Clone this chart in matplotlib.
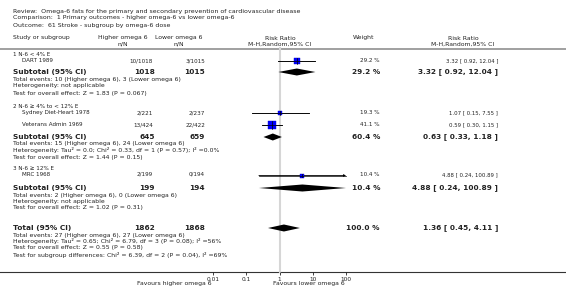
import matplotlib
matplotlib.use("Agg")
import matplotlib.pyplot as plt
import numpy as np

# ---------------- data ----------------
title_lines = [
    "Review:  Omega-6 fats for the primary and secondary prevention of cardiovascular disease",
    "Comparison:  1 Primary outcomes - higher omega-6 vs lower omega-6",
    "Outcome:  61 Stroke - subgroup by omega-6 dose",
]
subgroup_names = ["1 N-6 < 4% E", "2 N-6 \u2265 4% to < 12% E", "3 N-6 \u2265 12% E"]
study_names = ["DART 1989", "Sydney Diet-Heart 1978", "Veterans Admin 1969", "MRC 1968"]
study_group = [0, 1, 1, 2]
study_high = ["10/1018", "2/221", "13/424", "2/199"]
study_low = ["3/1015", "2/237", "22/422", "0/194"]
study_rr = [3.32, 1.07, 0.59, 4.88]
study_lo = [0.92, 0.15, 0.30, 0.24]
study_hi = [12.04, 7.55, 1.15, 100.89]
study_w = [29.2, 19.3, 41.1, 10.4]

sub_high_n = ["1018", "645", "199"]
sub_low_n = ["1015", "659", "194"]
sub_rr = [3.32, 0.63, 4.88]
sub_lo = [0.92, 0.33, 0.24]
sub_hi = [12.04, 1.18, 100.89]
sub_w = [29.2, 60.4, 10.4]
sub_info = [
    ["Total events: 10 (Higher omega 6), 3 (Lower omega 6)",
     "Heterogeneity: not applicable",
     "Test for overall effect: Z = 1.83 (P = 0.067)"],
    ["Total events: 15 (Higher omega 6), 24 (Lower omega 6)",
     "Heterogeneity: Tau\u00b2 = 0.0; Chi\u00b2 = 0.33, df = 1 (P = 0.57); I\u00b2 =0.0%",
     "Test for overall effect: Z = 1.44 (P = 0.15)"],
    ["Total events: 2 (Higher omega 6), 0 (Lower omega 6)",
     "Heterogeneity: not applicable",
     "Test for overall effect: Z = 1.02 (P = 0.31)"],
]
total_high_n = "1862"
total_low_n = "1868"
total_rr, total_lo, total_hi, total_w = 1.36, 0.45, 4.11, 100.0
total_info = [
    "Total events: 27 (Higher omega 6), 27 (Lower omega 6)",
    "Heterogeneity: Tau\u00b2 = 0.65; Chi\u00b2 = 6.79, df = 3 (P = 0.08); I\u00b2 =56%",
    "Test for overall effect: Z = 0.55 (P = 0.58)",
    "Test for subgroup differences: Chi\u00b2 = 6.39, df = 2 (P = 0.04), I\u00b2 =69%",
]
tick_vals = [0.01, 0.1, 1, 10, 100]
tick_labels = ["0.01", "0.1", "1", "10", "100"]
favours_left = "Favours higher omega 6"
favours_right = "Favours lower omega 6"

# ---------------- layout (pixels) ----------------
W, H = 566, 288
plt.rcParams["font.family"] = ["DejaVu Sans"]
fig = plt.figure(figsize=(W / 100, H / 100), dpi=100)
bg = fig.add_axes([0, 0, 1, 1])
bg.set_xlim(0, W)
bg.set_ylim(H, 0)
bg.axis("off")

FS = 4.4
FSS = 4.1
FSB = 5.3
col = "#222222"

def t(x, y, s, ha="left", size=FS, bold=False):
    bg.text(x, y, s, ha=ha, va="center", fontsize=size,
            fontweight="bold" if bold else "normal", color=col)

# titles
for i, s in enumerate(title_lines):
    t(13, 11 + i * 7, s, size=4.5)

# headers
t(13, 38, "Study or subgroup")
t(123, 38, "Higher omega 6", ha="center")
t(123, 44, "n/N", ha="center")
t(179, 38, "Lower omega 6", ha="center")
t(179, 44, "n/N", ha="center")
t(280, 38, "Risk Ratio", ha="center")
t(280, 44, "M-H,Random,95% CI", ha="center")
t(364, 38, "Weight", ha="center")
t(463, 38, "Risk Ratio", ha="center")
t(463, 44, "M-H,Random,95% CI", ha="center")
bg.plot([0, W], [48.5, 48.5], color="#a0a0a0", lw=1.4, solid_capstyle="butt")

# row positions
group_head_y = [55, 106.5, 168.5]
study_y = [60.8, 112.8, 124.8, 174.5]
sub_y = [72, 137, 188]
sub_info_y = [[79, 86, 93], [143, 150, 157], [195, 202, 208]]
total_y = 228
total_info_y = [235, 241, 248, 255]
axis_y = 272

X_HIGH, X_LOW, X_W, X_CI = 153, 205, 379, 498

for g, name in enumerate(subgroup_names):
    t(13, group_head_y[g], name, size=FSS)
for i in range(len(study_names)):
    y = study_y[i]
    t(22, y, study_names[i], size=FSS)
    t(X_HIGH, y, study_high[i], ha="right", size=FSS)
    t(X_LOW, y, study_low[i], ha="right", size=FSS)
    t(X_W, y, f"{study_w[i]:.1f} %", ha="right", size=FSS)
    t(X_CI, y, f"{study_rr[i]:.2f} [ {study_lo[i]:.2f}, {study_hi[i]:.2f} ]", ha="right", size=3.9)
for g in range(3):
    y = sub_y[g]
    t(13, y, "Subtotal (95% CI)", size=FSB, bold=True)
    t(X_HIGH + 2, y, sub_high_n[g], ha="right", size=FSB, bold=True)
    t(X_LOW, y, sub_low_n[g], ha="right", size=FSB, bold=True)
    t(X_W + 1, y, f"{sub_w[g]:.1f} %", ha="right", size=FSB, bold=True)
    t(X_CI, y, f"{sub_rr[g]:.2f} [ {sub_lo[g]:.2f}, {sub_hi[g]:.2f} ]", ha="right", size=FSB, bold=True)
    for s, yy in zip(sub_info[g], sub_info_y[g]):
        t(13, yy, s)
t(13, total_y, "Total (95% CI)", size=FSB, bold=True)
t(X_HIGH + 2, total_y, total_high_n, ha="right", size=FSB, bold=True)
t(X_LOW, total_y, total_low_n, ha="right", size=FSB, bold=True)
t(X_W + 1, total_y, f"{total_w:.1f} %", ha="right", size=FSB, bold=True)
t(X_CI, total_y, f"{total_rr:.2f} [ {total_lo:.2f}, {total_hi:.2f} ]", ha="right", size=FSB, bold=True)
for s, yy in zip(total_info, total_info_y):
    t(13, yy, s)

# bottom axis line across the figure
bg.plot([0, W], [axis_y, axis_y], color="#333333", lw=0.8)
t(174, 284, favours_left, ha="center")
t(309, 284, favours_right, ha="center")

# ---------------- forest axes ----------------
x0, x1 = 213, 346
top, bot = 48, axis_y
ax = fig.add_axes([x0 / W, (H - bot) / H, (x1 - x0) / W, (bot - top) / H])
ax.set_xscale("log")
ax.set_xlim(0.01, 100)
ax.set_ylim(bot, top)
ax.patch.set_alpha(0)
for sp in ax.spines.values():
    sp.set_visible(False)
ax.set_yticks([])
ax.set_xticks(tick_vals)
ax.set_xticklabels(tick_labels)
ax.minorticks_off()
ax.tick_params(axis="x", direction="out", length=2.5, width=0.6, pad=1,
               labelsize=4.2, colors="#222222")

ax.plot([1, 1], [top, bot], color="#d6d6d6", lw=1.5, zorder=0, clip_on=False)

marker_y = [61, 113, 125, 175.5]
for i in range(len(study_names)):
    y = marker_y[i]
    hi = min(study_hi[i], 100)
    if study_hi[i] > 100:
        ax.annotate("", xy=(100, y), xytext=(study_lo[i], y),
                    arrowprops=dict(arrowstyle="-|>", color="black", lw=0.6,
                                    mutation_scale=3, shrinkA=0, shrinkB=0),
                    annotation_clip=False)
    else:
        ax.plot([study_lo[i], hi], [y, y], color="black", lw=0.6, zorder=2, clip_on=False)
    side_px = 1.12 * np.sqrt(study_w[i])
    ax.plot([study_rr[i]], [y], marker="s", markersize=side_px * 0.72,
            markerfacecolor="#0000ff", markeredgecolor="#0000cc", markeredgewidth=0.3,
            linestyle="none", zorder=3, clip_on=False)
    ax.plot([study_rr[i]] * 2, [y - side_px / 2, y + side_px / 2], color="black",
            lw=0.5, zorder=4, clip_on=False)
    ax.plot([study_lo[i], hi], [y, y], color="black", lw=0.5, zorder=4, clip_on=False)

def diamond(rr, lo, hi, y, h=3.5):
    hi = min(hi, 100)
    xs = [lo, rr, hi, rr]
    ys = [y, y - h, y, y + h]
    ax.fill(xs, ys, color="black", lw=0, zorder=3, clip_on=False)

for g in range(3):
    diamond(sub_rr[g], sub_lo[g], sub_hi[g], sub_y[g])
diamond(total_rr, total_lo, total_hi, total_y)

fig.savefig("out.png", dpi=100)
